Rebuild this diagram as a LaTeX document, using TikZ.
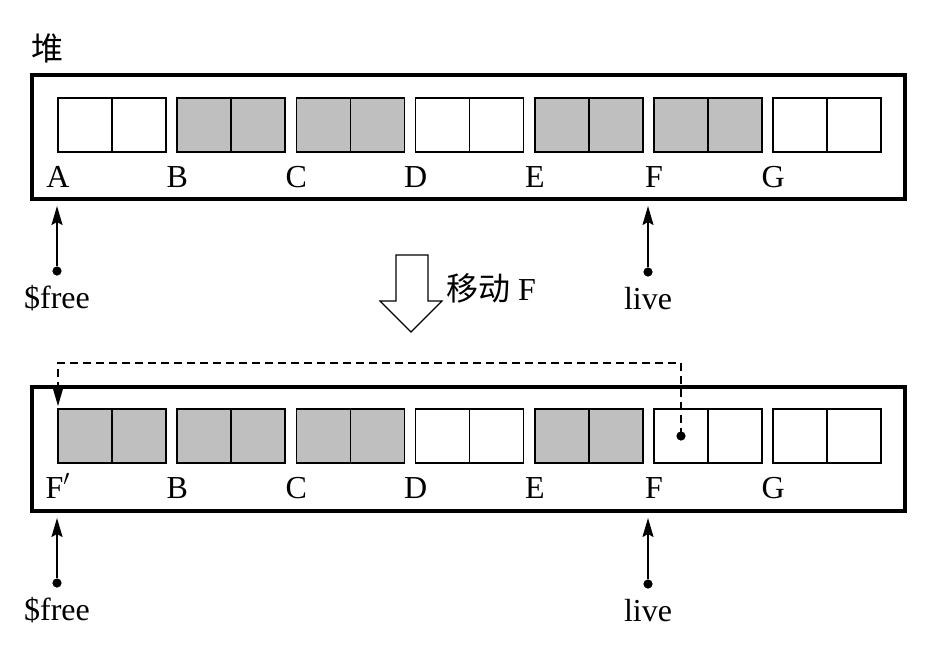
\documentclass[tikz,border=0pt]{standalone}
\usepackage{fontspec}
\setmainfont{Liberation Serif}
\newfontfamily\cjk{Noto Sans CJK SC}
\usepackage{tikz}
\usetikzlibrary{arrows.meta,positioning}
\definecolor{usedgray}{RGB}{191,191,191}

\begin{document}
\begin{tikzpicture}[x=0.5pt,y=-0.5pt,node distance=0pt,
  cell/.style={draw,line width=0.8pt,minimum width=27pt,minimum height=27pt,inner sep=0pt,outer sep=0pt},
  used cell/.style={cell,fill=usedgray},
  heap/.style={draw,line width=1.6pt,minimum width=436.5pt,minimum height=62pt,inner sep=0pt,outer sep=0pt},
  lab/.style={font=\fontsize{16}{19}\selectfont,inner sep=0pt},
  dot/.style={circle,fill,inner sep=0pt,minimum size=4.6pt},
  ptr/.style={-{Stealth[length=9.5pt,width=5.5pt,inset=1.5pt]},line width=0.9pt,shorten >=3.5pt}]

  \useasboundingbox (0,0) rectangle (946,650);

  % heap before
  \node[lab] (heapname) at (48,48) {\cjk 堆};
  \node[heap] (heap1) at (468.5,137) {};

  \node[cell,anchor=north west] (a1) at (58,98) {};
  \node[cell,right=of a1] (a2) {};
  \node[used cell,right=5.6pt of a2] (b1) {};
  \node[used cell,right=of b1] (b2) {};
  \node[used cell,right=5.6pt of b2] (c1) {};
  \node[used cell,right=of c1] (c2) {};
  \node[cell,right=5.6pt of c2] (d1) {};
  \node[cell,right=of d1] (d2) {};
  \node[used cell,right=5.6pt of d2] (e1) {};
  \node[used cell,right=of e1] (e2) {};
  \node[used cell,right=5.6pt of e2] (f1) {};
  \node[used cell,right=of f1] (f2) {};
  \node[cell,right=5.6pt of f2] (g1) {};
  \node[cell,right=of g1] (g2) {};

  \node[lab,anchor=base] (la) at ([yshift=-17.5pt]a1.south west) {A};
  \node[lab,anchor=base] (lb) at ([yshift=-17.5pt]b1.south west) {B};
  \node[lab,anchor=base] (lc) at ([yshift=-17.5pt]c1.south west) {C};
  \node[lab,anchor=base] (ld) at ([yshift=-17.5pt]d1.south west) {D};
  \node[lab,anchor=base] (le) at ([yshift=-17.5pt]e1.south west) {E};
  \node[lab,anchor=base] (lf) at ([yshift=-17.5pt]f1.south west) {F};
  \node[lab,anchor=base] (lg) at ([yshift=-17.5pt]g1.south west) {G};

  \node[dot] (free1) at (57,271) {};
  \node[dot] (live1) at (648,272) {};
  \node[lab,anchor=base] (freetxt1) at (57,308) {\$free};
  \node[lab,anchor=base] (livetxt1) at (648,309) {live};
  \draw[ptr] (free1) -- (free1 |- heap1.south);
  \draw[ptr] (live1) -- (live1 |- heap1.south);

  % move step
  \draw[line width=0.6pt] (396,255) -- (428,255) -- (428,301) -- (442,301)
    -- (411,332) -- (380,301) -- (396,301) -- cycle;
  \node[lab] (movetxt) at (491,288) {{\cjk 移动}\ F};

  % heap after
  \node[heap] (heap2) at (468.5,449) {};

  \node[used cell,anchor=north west] (a1m) at (58,409) {};
  \node[used cell,right=of a1m] (a2m) {};
  \node[used cell,right=5.6pt of a2m] (b1m) {};
  \node[used cell,right=of b1m] (b2m) {};
  \node[used cell,right=5.6pt of b2m] (c1m) {};
  \node[used cell,right=of c1m] (c2m) {};
  \node[cell,right=5.6pt of c2m] (d1m) {};
  \node[cell,right=of d1m] (d2m) {};
  \node[used cell,right=5.6pt of d2m] (e1m) {};
  \node[used cell,right=of e1m] (e2m) {};
  \node[cell,right=5.6pt of e2m] (f1m) {};
  \node[cell,right=of f1m] (f2m) {};
  \node[cell,right=5.6pt of f2m] (g1m) {};
  \node[cell,right=of g1m] (g2m) {};

  \node[lab,anchor=base] (lam) at ([yshift=-17.5pt]a1m.south west) {F$'$};
  \node[lab,anchor=base] (lbm) at ([yshift=-17.5pt]b1m.south west) {B};
  \node[lab,anchor=base] (lcm) at ([yshift=-17.5pt]c1m.south west) {C};
  \node[lab,anchor=base] (ldm) at ([yshift=-17.5pt]d1m.south west) {D};
  \node[lab,anchor=base] (lem) at ([yshift=-17.5pt]e1m.south west) {E};
  \node[lab,anchor=base] (lfm) at ([yshift=-17.5pt]f1m.south west) {F};
  \node[lab,anchor=base] (lgm) at ([yshift=-17.5pt]g1m.south west) {G};

  % forwarding pointer
  \node[dot] (fwd) at (f1m.center) {};
  \draw[ptr,line width=0.8pt,dash pattern=on 4pt off 2.5pt,shorten >=1.5pt]
    (fwd.center) |- ([yshift=23pt]a1m.north west) -- (a1m.north west);

  \node[dot] (free2) at (57,583) {};
  \node[dot] (live2) at (648,584) {};
  \node[lab,anchor=base] (freetxt2) at (57,620) {\$free};
  \node[lab,anchor=base] (livetxt2) at (648,621) {live};
  \draw[ptr] (free2) -- (free2 |- heap2.south);
  \draw[ptr] (live2) -- (live2 |- heap2.south);
\end{tikzpicture}
\end{document}
